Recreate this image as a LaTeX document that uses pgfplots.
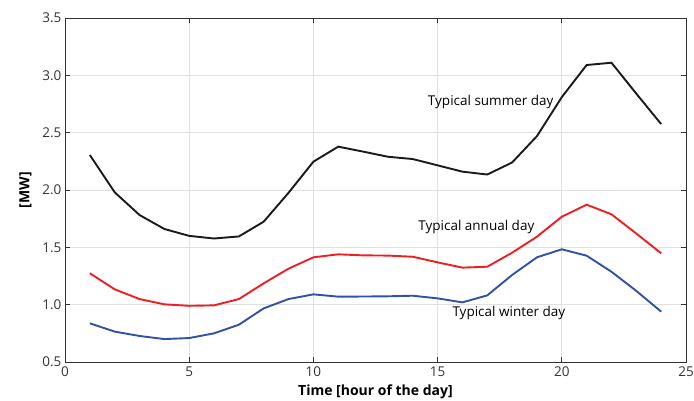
\documentclass[border=0pt]{standalone}
\usepackage{pgfplots}
\pgfplotsset{compat=1.18}
\usepackage{fontspec}
\setmainfont{Open Sans}
\definecolor{summer}{RGB}{26,26,26}
\definecolor{annual}{RGB}{238,30,36}
\definecolor{winter}{RGB}{48,82,164}
\definecolor{gridgray}{RGB}{224,224,224}
\definecolor{framegray}{RGB}{50,50,50}
\begin{document}
\begin{tikzpicture}
\begin{axis}[
  scale only axis,
  width=621pt, height=344pt,
  xmin=0, xmax=25, ymin=0.5, ymax=3.5,
  xtick={0,5,...,25},
  ytick={0.5,1.0,...,3.5},
  tick align=inside,
  major tick length=5pt,
  tick style={framegray, line width=0.8pt},
  axis line style={framegray, line width=0.9pt},
  grid=major,
  major grid style={gridgray, line width=0.7pt},
  yticklabel style={/pgf/number format/.cd, fixed, fixed zerofill, precision=1},
  /pgf/number format/assume math mode=true,
  ticklabel style={font=\fontsize{13.5}{15}\selectfont, text=black!80},
  xticklabel style={yshift=-1pt},
  xlabel={\textbf{Time [hour of the day]}},
  ylabel={\textbf{[MW]}},
  label style={font=\fontsize{14}{16}\selectfont},
  xlabel style={yshift=-1pt},
  ylabel style={yshift=4pt},
  clip=false,
]
\addplot[summer, line width=1.9pt] coordinates {
 (1,2.305) (2,1.98) (3,1.782) (4,1.66) (5,1.60) (6,1.577) (7,1.595) (8,1.724)
 (9,1.976) (10,2.247) (11,2.378) (12,2.335) (13,2.29) (14,2.27) (15,2.215) (16,2.16)
 (17,2.135) (18,2.24) (19,2.47) (20,2.81) (21,3.09) (22,3.11) (23,2.84) (24,2.575)};
\addplot[annual, line width=1.9pt] coordinates {
 (1,1.274) (2,1.134) (3,1.049) (4,1.003) (5,0.99) (6,0.994) (7,1.049) (8,1.186)
 (9,1.314) (10,1.413) (11,1.439) (12,1.43) (13,1.428) (14,1.418) (15,1.369) (16,1.323)
 (17,1.331) (18,1.453) (19,1.593) (20,1.767) (21,1.872) (22,1.788) (23,1.62) (24,1.448)};
\addplot[winter, line width=1.9pt] coordinates {
 (1,0.837) (2,0.765) (3,0.727) (4,0.70) (5,0.709) (6,0.75) (7,0.825) (8,0.968)
 (9,1.049) (10,1.09) (11,1.07) (12,1.071) (13,1.073) (14,1.078) (15,1.055) (16,1.02)
 (17,1.081) (18,1.259) (19,1.413) (20,1.483) (21,1.427) (22,1.287) (23,1.12) (24,0.939)};
\node[font=\fontsize{13.5}{15}\selectfont] at (axis cs:17.14,2.77) {Typical summer day};
\node[font=\fontsize{13.5}{15}\selectfont] at (axis cs:16.56,1.68) {Typical annual day};
\node[font=\fontsize{13.5}{15}\selectfont] at (axis cs:17.87,0.93) {Typical winter day};
\end{axis}
\pgfresetboundingbox
\path (current axis.south west) ++(-65pt,-38pt) rectangle ++(694pt,400pt);
\end{tikzpicture}
\end{document}
